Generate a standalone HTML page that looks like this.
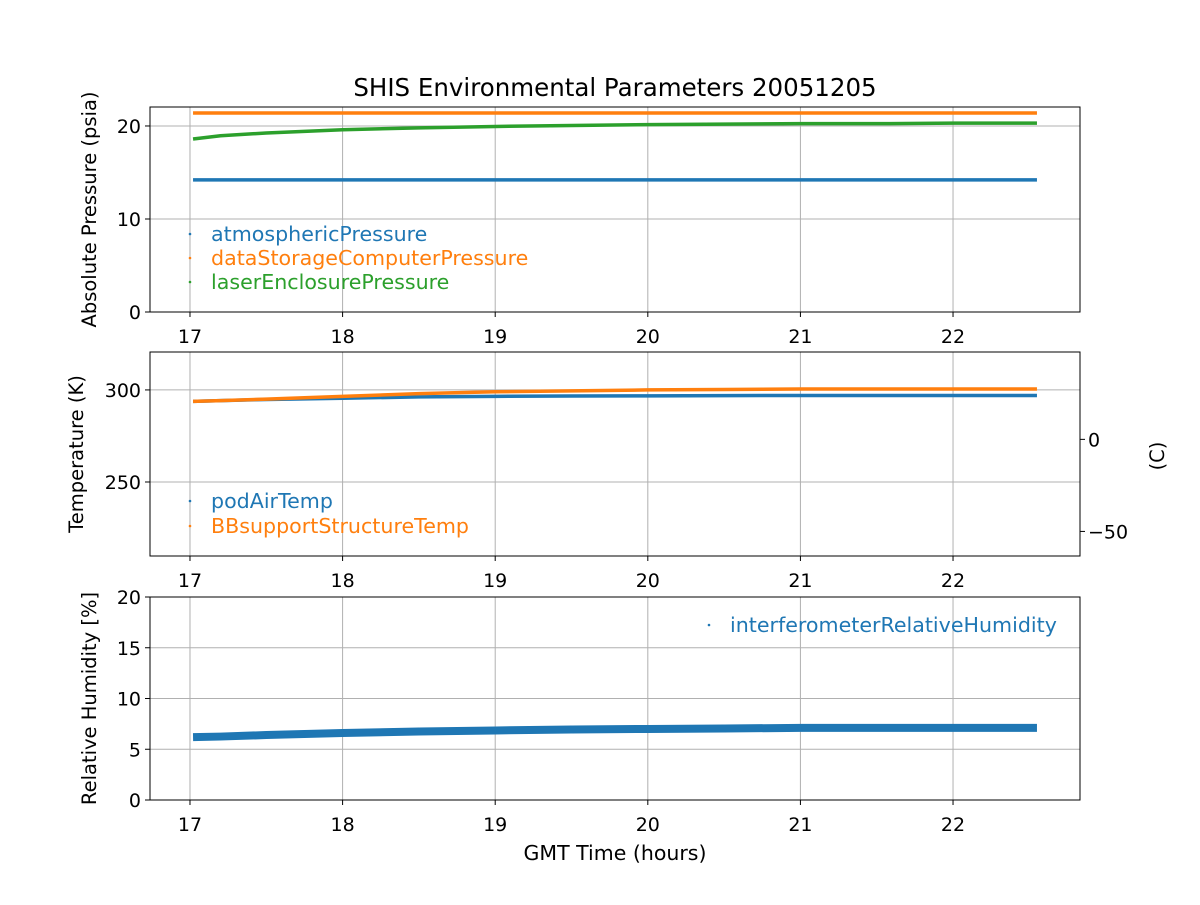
<!DOCTYPE html>
<html><head><meta charset="utf-8"><style>
body{margin:0;background:#fff;}
svg text{font-family:"DejaVu Sans","Liberation Sans",sans-serif;}
</style></head><body>
<svg id="chart" width="1200" height="900" xmlns="http://www.w3.org/2000/svg"></svg>
<script>
const timeHours=[17.02,17.2,17.5,18,18.5,19,19.5,20,20.5,21,21.5,22,22.55];
const atmosphericPressure=[14.2,14.2,14.2,14.2,14.2,14.2,14.2,14.2,14.2,14.2,14.2,14.2,14.2];
const dataStoragePressure=[21.4,21.4,21.4,21.4,21.4,21.4,21.4,21.4,21.4,21.4,21.4,21.4,21.4];
const laserPressure=[18.6,18.95,19.25,19.6,19.8,19.95,20.05,20.15,20.2,20.25,20.25,20.3,20.3];
const podAirTemp=[293.8,294.2,294.8,295.5,296.2,296.5,296.7,296.8,296.9,297,297,297,297];
const bbTemp=[293.8,294.2,295,296.5,298,299,299.5,300,300.2,300.5,300.5,300.5,300.5];
const humidity=[6.2,6.25,6.4,6.6,6.75,6.85,6.95,7.0,7.05,7.1,7.1,7.1,7.1];
const xTicks=[17,18,19,20,21,22];
const p1Ticks=[0,10,20];
const p2Ticks=[250,300];
const p2RightTicks=[-50,0];
const p3Ticks=[0,5,10,15,20];

const svg=document.getElementById('chart');
const NS='http://www.w3.org/2000/svg';
function mk(tag,attrs,parent){const e=document.createElementNS(NS,tag);for(const k in attrs)e.setAttribute(k,attrs[k]);(parent||svg).appendChild(e);return e;}
const X0=150,X1=1080,xmin=16.738,xmax=22.832;
const xs=v=>X0+(v-xmin)/(xmax-xmin)*(X1-X0);
const TF=19;
const panels=[
 {top:107,bot:312,min:0,max:22.04,ticks:p1Ticks,name:'pressure-panel',label:'Absolute Pressure (psia)',lx:96},
 {top:352,bot:556,min:209.8,max:320.6,ticks:p2Ticks,name:'temperature-panel',label:'Temperature (K)',lx:83},
 {top:597,bot:800,min:0,max:20,ticks:p3Ticks,name:'humidity-panel',label:'Relative Humidity [%]',lx:96}];
function ys(p,v){return p.bot-(v-p.min)/(p.max-p.min)*(p.bot-p.top);}
panels.forEach(p=>{
 const g=mk('g',{});
 
 xTicks.forEach(t=>{const x=xs(t);
  mk('line',{x1:x,x2:x,y1:p.top,y2:p.bot,stroke:'#b0b0b0','stroke-width':1},g);
  mk('line',{x1:x,x2:x,y1:p.bot,y2:p.bot+5,stroke:'#000'},g);
  const tx=mk('text',{x:x,y:p.bot+31,'text-anchor':'middle','font-size':TF},g);tx.textContent=t;
  });
 p.ticks.forEach(t=>{const y=ys(p,t);
  mk('line',{x1:X0,x2:X1,y1:y,y2:y,stroke:'#b0b0b0','stroke-width':1},g);
  mk('line',{x1:X0-5,x2:X0,y1:y,y2:y,stroke:'#000'},g);
  const tx=mk('text',{x:X0-9,y:y+7,'text-anchor':'end','font-size':TF},g);tx.textContent=t;
  });
 const yl=mk('text',{transform:`translate(${p.lx},${(p.top+p.bot)/2}) rotate(-90)`,'text-anchor':'middle','font-size':19.5},g);yl.textContent=p.label;
 
 p.g=g;
});
function series(p,vals,color,w,name){
 const pts=timeHours.map((t,i)=>xs(t)+','+ys(p,vals[i])).join(' ');
 const l=mk('polyline',{points:pts,fill:'none',stroke:color,'stroke-width':w},p.g);
 
}
series(panels[0],atmosphericPressure,'#1f77b4',3.5,'atmospheric-pressure-line');
series(panels[0],dataStoragePressure,'#ff7f0e',3.5,'data-storage-pressure-line');
series(panels[0],laserPressure,'#2ca02c',3.5,'laser-enclosure-pressure-line');
series(panels[1],podAirTemp,'#1f77b4',3.5,'pod-air-temp-line');
series(panels[1],bbTemp,'#ff7f0e',3.5,'bb-support-temp-line');
series(panels[2],humidity,'#1f77b4',8,'humidity-line');
panels.forEach(p=>mk('rect',{x:X0,y:p.top,width:X1-X0,height:p.bot-p.top,fill:'none',stroke:'#000','stroke-width':1},p.g));
const p2=panels[1];
p2RightTicks.forEach(t=>{const y=ys(p2,t+273.15);
 mk('line',{x1:X1,x2:X1+5,y1:y,y2:y,stroke:'#000'},p2.g);
 const tx=mk('text',{x:X1+8,y:y+7,'font-size':TF},p2.g);tx.textContent=t<0?'\u2212'+(-t):t;
 });
const rl=mk('text',{transform:`translate(1164,456) rotate(-90)`,'text-anchor':'middle','font-size':19.5},p2.g);rl.textContent='(C)';

function legend(x,y,color,label){
 const g=mk('g',{});
 mk('circle',{cx:x,cy:y-7,r:1.3,fill:color},g);
 const t=mk('text',{x:x+21,y:y,'font-size':20.6,fill:color},g);t.textContent=label;
}
legend(190,241,'#1f77b4','atmosphericPressure');
legend(190,265,'#ff7f0e','dataStorageComputerPressure');
legend(190,289,'#2ca02c','laserEnclosurePressure');
legend(190,508,'#1f77b4','podAirTemp');
legend(190,533,'#ff7f0e','BBsupportStructureTemp');
legend(709,632,'#1f77b4','interferometerRelativeHumidity');
const tt=mk('text',{x:615,y:96,'text-anchor':'middle','font-size':24.5});tt.textContent='SHIS Environmental Parameters 20051205';

const xt=mk('text',{x:615,y:860,'text-anchor':'middle','font-size':20.5});xt.textContent='GMT Time (hours)';

</script>
</body></html>
